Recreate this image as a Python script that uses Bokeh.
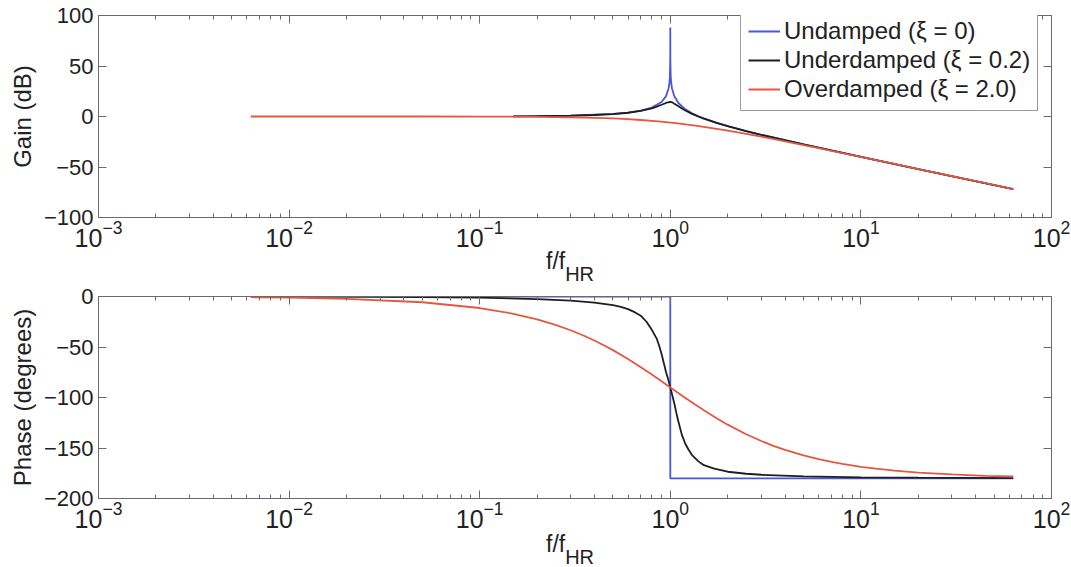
from bokeh.plotting import figure
from bokeh.models import Range1d, LogAxis, LinearAxis, FixedTicker, Legend, LegendItem, Div
from bokeh.layouts import column
from bokeh.embed import file_html
from bokeh.resources import INLINE

# ---------------- data ----------------
# Undamped (xi = 0)
freq_und_gain = [0.15, 0.3, 0.5, 0.6, 0.7, 0.8, 0.9, 0.95, 0.98, 0.99, 0.995, 0.999, 0.9999, 1.0,
                 1.0001, 1.001, 1.005, 1.01, 1.02, 1.05, 1.1, 1.2, 1.3, 1.4, 1.5, 1.75, 2, 2.5, 3, 5,
                 10, 20, 63]
gain_und = [0.2, 0.8, 2.5, 3.9, 5.8, 8.9, 14.4, 20.2, 28, 34, 40, 54, 74, 88,
            74, 54, 40, 34, 28, 20, 13.6, 7.1, 3.2, 0.35, -1.9, -6.3, -9.5, -14.4, -18.1, -27.6,
            -39.9, -52, -72]
freq_und_phase = [0.0063, 1.0, 1.0, 63]
phase_und = [0, 0, -180, -180]

# Underdamped (xi = 0.2)
freq_ud_gain = [0.15, 0.2, 0.3, 0.4, 0.5, 0.6, 0.7, 0.8, 0.85, 0.9, 0.95, 0.975, 1.0, 1.025, 1.05,
                1.1, 1.15, 1.2, 1.3, 1.4, 1.5, 1.75, 2, 2.5, 3, 4, 5, 7, 10, 20, 63]
gain_ud = [0.2, 0.35, 0.8, 1.5, 2.4, 3.7, 5.5, 8.1, 9.8, 11.6, 13.4, 14.1, 14.5, 14.0, 12.6,
           10.3, 8.0, 6.0, 2.6, 0, -2.2, -6.4, -9.6, -14.4, -18.1, -23.5, -27.6, -33.6, -39.9, -52, -72]
freq_ud_phase = [0.0063, 0.01, 0.02, 0.05, 0.1, 0.2, 0.3, 0.4, 0.5, 0.55, 0.6, 0.65, 0.7, 0.75,
                 0.8, 0.85, 0.875, 0.9, 0.925, 0.95, 0.975, 1.0, 1.025, 1.05, 1.075, 1.1, 1.15, 1.2,
                 1.25, 1.3, 1.4, 1.5, 1.7, 2, 2.5, 3, 5, 10, 20, 63]
phase_ud = [0, -0.1, -0.2, -0.6, -1.2, -2.5, -4, -6, -8.5, -10.3, -12.5, -15.5, -19, -25,
            -33, -42, -49, -57, -66, -75, -82, -90, -98, -106, -115, -123, -137, -146,
            -152, -157, -163, -167, -170.5, -173.5, -175.5, -176.5, -178, -179, -179.4, -179.8]

# Overdamped (xi = 2.0)
freq_od = [0.0063, 0.01, 0.02, 0.05, 0.1, 0.15, 0.2, 0.25, 0.3, 0.35, 0.4, 0.45, 0.5, 0.6, 0.7,
           0.8, 0.9, 1.0, 1.1, 1.2, 1.35, 1.5, 1.75, 2, 2.5, 3, 3.5, 4, 5, 6, 7, 8, 10, 12, 15,
           20, 30, 45, 63]
gain_od = [0, 0, 0, -0.02, -0.09, -0.19, -0.34, -0.53, -0.78, -1.0, -1.29, -1.6, -1.94, -2.69, -3.48,
           -4.3, -5.1, -6.0, -6.89, -7.7, -9.01, -10.2, -12.18, -14, -17.2, -20, -22.4, -24.6, -28.3,
           -31.4, -34, -36.3, -40, -43.2, -47, -52, -59, -66, -72]
phase_od = [-0.7, -1.1, -2.3, -5.7, -11.4, -17.1, -22.6, -28.1, -33.4, -38.6, -43.6, -48.5, -53.1,
            -61.9, -70, -77.3, -84, -90, -95.5, -100.4, -107, -112.6, -120.5, -126.9, -136.4, -143.1,
            -148.1, -151.9, -157.4, -161.1, -163.7, -165.8, -168.6, -170.5, -172.4, -174.3, -176.2,
            -177.5, -178.2]

x_major = [1e-3, 1e-2, 1e-1, 1e0, 1e1, 1e2]
gain_ticks = [-100, -50, 0, 50, 100]
phase_ticks = [-200, -150, -100, -50, 0]

legend_labels = ["Undamped (\u03be = 0)", "Underdamped (\u03be = 0.2)", "Overdamped (\u03be = 2.0)"]
x_title_main = "f/f"
x_title_sub = "HR"

# ---------------- style ----------------
C_BLUE = "#4a56d6"
C_BLACK = "#1e1e1e"
C_RED = "#e5573f"
AX = "#6a6a6a"
TXT = "#222222"
FONT = "Liberation Sans"
LW = 1.8

x_minor = [k * 10.0 ** d for d in range(-3, 2) for k in range(2, 10)]


def style_axes(p, yticks):
    bottom = p.below[0]
    left = p.left[0]
    xt = FixedTicker(ticks=x_major, minor_ticks=x_minor)
    yt = FixedTicker(ticks=yticks, minor_ticks=[])
    bottom.ticker = xt
    left.ticker = yt
    left.major_label_overrides = {t: (str(t).replace("-", "\u2212")) for t in yticks}
    top = LogAxis(ticker=xt, major_label_text_font_size="0px", major_label_text_color=None)
    right = LinearAxis(ticker=yt, major_label_text_font_size="0px", major_label_text_color=None)
    p.add_layout(top, "above")
    p.add_layout(right, "right")
    for ax in [bottom, left, top, right]:
        ax.axis_line_color = AX
        ax.major_tick_line_color = AX
        ax.minor_tick_line_color = AX
        ax.major_tick_in = 8
        ax.major_tick_out = 0
        ax.minor_tick_in = 4
        ax.minor_tick_out = 0
        ax.major_label_standoff = 0
    for ax in [bottom, left]:
        ax.major_label_text_font = FONT
        ax.major_label_text_color = TXT
    bottom.major_label_text_font_size = "25px"
    bottom.major_label_standoff = 2
    left.major_label_text_font_size = "22px"
    left.major_label_standoff = 5
    left.axis_label_text_font = FONT
    left.axis_label_text_font_size = "24px"
    left.axis_label_text_font_style = "normal"
    left.axis_label_text_color = TXT
    left.axis_label_standoff = 5
    right.minor_tick_line_color = None
    left.minor_tick_line_color = None
    p.xgrid.grid_line_color = None
    p.ygrid.grid_line_color = None
    p.outline_line_color = AX
    p.background_fill_color = "white"
    p.border_fill_color = "white"


def x_title(height):
    html = ('<div style="position:relative;width:1071px;height:%dpx;'
            'font-family:\'Liberation Sans\',Arial,sans-serif;color:%s;">'
            '<span style="position:absolute;left:546px;top:-1px;font-size:23px;line-height:24px;'
            'white-space:nowrap;">%s<span style="font-size:20px;position:relative;top:12px;">%s</span>'
            '</span></div>') % (height, TXT, x_title_main, x_title_sub)
    return Div(text=html, width=1071, height=height, margin=(0, 0, 0, 0))


common = dict(width=1071, height=250, x_axis_type="log", output_backend="svg", toolbar_location=None,
              min_border_left=98, min_border_right=20, x_range=Range1d(1e-3, 1e2))

p1 = figure(y_range=Range1d(-100, 100), min_border_top=15, min_border_bottom=33,
            y_axis_label="Gain (dB)", **common)
r1 = p1.line(freq_und_gain, gain_und, line_color=C_BLUE, line_width=LW)
r2 = p1.line(freq_ud_gain, gain_ud, line_color=C_BLACK, line_width=LW)
r3 = p1.line(freq_od, gain_od, line_color=C_RED, line_width=LW)
style_axes(p1, gain_ticks)

legend = Legend(items=[LegendItem(label=legend_labels[0], renderers=[r1]),
                       LegendItem(label=legend_labels[1], renderers=[r2]),
                       LegendItem(label=legend_labels[2], renderers=[r3])],
                location=(642, 106), margin=0, padding=7, spacing=1,
                glyph_width=32, glyph_height=26, label_height=26, label_standoff=4,
                label_text_font=FONT, label_text_font_size="24px", label_text_color=TXT,
                border_line_color="#333333", border_line_width=1, background_fill_alpha=1.0)
p1.add_layout(legend)

p2 = figure(y_range=Range1d(-200, 0), min_border_top=13, min_border_bottom=35,
            y_axis_label="Phase (degrees)", **common)
p2.line(freq_und_phase, phase_und, line_color=C_BLUE, line_width=LW)
p2.line(freq_ud_phase, phase_ud, line_color=C_BLACK, line_width=LW)
p2.line(freq_od, phase_od, line_color=C_RED, line_width=LW)
style_axes(p2, phase_ticks)

layout = column(p1, x_title(33), p2, x_title(34), spacing=0)
open("out.html", "w").write(file_html(layout, INLINE))
